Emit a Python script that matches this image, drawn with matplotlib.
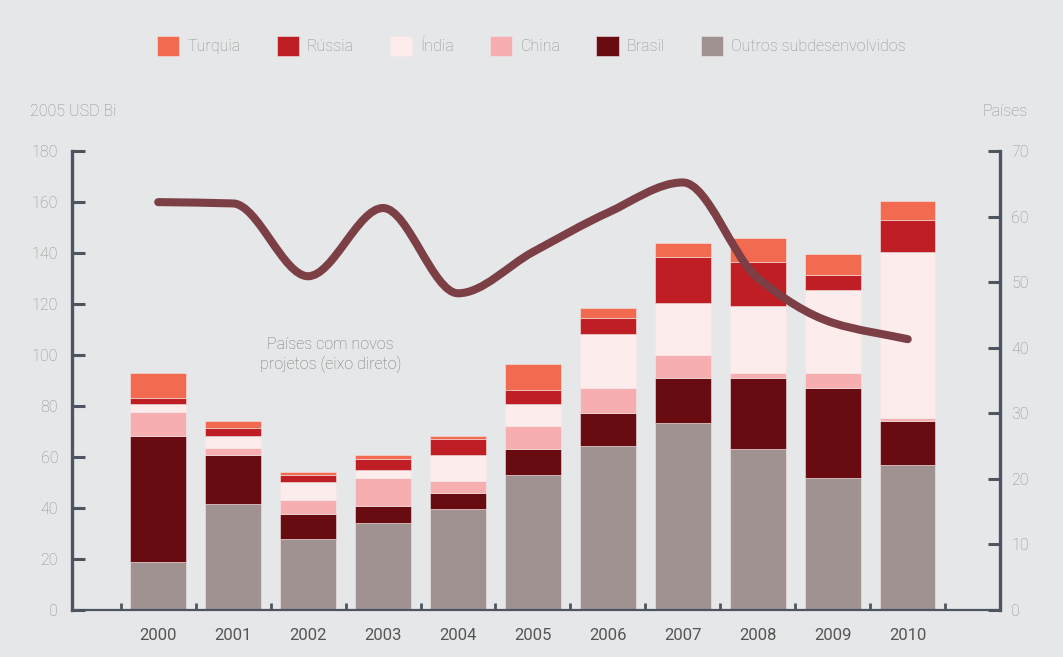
import numpy as np
import matplotlib.pyplot as plt
from matplotlib.path import Path
from matplotlib.patches import PathPatch, Patch

# dados (USD bilhões de 2005)
anos = ['2000', '2001', '2002', '2003', '2004', '2005', '2006', '2007', '2008', '2009', '2010']
outros = [18.8, 41.4, 27.8, 34.3, 39.6, 52.9, 64.5, 73.5, 63.2, 51.7, 56.8]
brasil = [49.5, 19.2, 9.8, 6.6, 6.2, 10.3, 12.9, 17.4, 27.7, 35.3, 17.4]
china = [9.5, 3.1, 5.7, 10.7, 4.6, 9.0, 9.6, 9.0, 1.9, 5.8, 1.2]
india = [2.9, 4.5, 7.0, 3.3, 10.2, 8.5, 21.1, 20.6, 26.3, 32.8, 64.9]
russia = [2.5, 3.3, 2.6, 4.4, 6.6, 5.6, 6.5, 17.8, 17.4, 5.7, 12.8]
turquia = [9.6, 2.7, 1.3, 1.3, 1.1, 10.3, 3.8, 5.8, 9.4, 8.4, 7.1]
paises = [62.2, 62.0, 50.9, 61.3, 48.3, 54.6, 60.6, 65.2, 50.6, 43.8, 41.3]

bg = '#e6e7e8'
eixo = '#4d5660'
txt = '#8f8f8f'
plt.rcParams['font.family'] = ['Roboto', 'DejaVu Sans']
plt.rcParams['font.weight'] = 'light'

fig = plt.figure(figsize=(10.63, 6.57), dpi=100, facecolor=bg)
ax = fig.add_axes([0.0677, 0.0715, 0.873, 0.6987])
ax.set_facecolor(bg)

x = np.arange(len(anos))
series = [
    ('Outros subdesenvolvidos', outros, '#a09291'),
    ('Brasil', brasil, '#690c12'),
    ('China', china, '#f6aeb0'),
    ('Índia', india, '#fdecec'),
    ('Rússia', russia, '#be1e24'),
    ('Turquia', turquia, '#f26a50'),
]
base = np.zeros(len(anos))
for nome, vals, cor in series:
    ax.bar(x, vals, bottom=base, width=0.74, color=cor, edgecolor='#f3e6e6',
           linewidth=0.4, zorder=2)
    base += np.array(vals)

ax.set_xlim(-1.15, 11.23)
ax.set_ylim(0, 180)
ax.set_yticks(range(0, 181, 20))
ax.set_xticks(x)
ax.set_xticklabels(anos, fontweight='normal')
ax.set_xticks(np.arange(-0.5, 11, 1), minor=True)
ax.tick_params(axis='x', which='major', length=0, pad=13, labelsize=12, labelcolor='#555555')
ax.tick_params(axis='x', which='minor', direction='in', length=5, width=2, color=eixo)
ax.tick_params(axis='y', direction='in', length=9, width=2.2, color=eixo,
               labelsize=11.5, labelcolor=txt, pad=10)
for s in ['top', 'right']:
    ax.spines[s].set_visible(False)
for s in ['left', 'bottom']:
    ax.spines[s].set_color(eixo)
ax.spines['left'].set_linewidth(2.4)
ax.spines['bottom'].set_linewidth(1.6)

ax2 = ax.twinx()
ax2.set_ylim(0, 70)
ax2.set_yticks(range(0, 71, 10))
ax2.tick_params(axis='y', direction='in', length=9, width=2.2, color=eixo,
                labelsize=11.5, labelcolor=txt, pad=8)
for s in ['top', 'left', 'bottom']:
    ax2.spines[s].set_visible(False)
ax2.spines['right'].set_color(eixo)
ax2.spines['right'].set_linewidth(2.4)

# curva suave monotona (Fritsch-Carlson -> Bezier)
px = x.astype(float)
py = np.array(paises, dtype=float)
d = np.diff(py) / np.diff(px)
m = np.zeros(len(py))
m[0], m[-1] = d[0], d[-1]
for i in range(1, len(py) - 1):
    if d[i - 1] * d[i] > 0:
        m[i] = 2 / (1 / d[i - 1] + 1 / d[i])
verts = [(px[0], py[0])]
codes = [Path.MOVETO]
for i in range(len(py) - 1):
    h = px[i + 1] - px[i]
    verts += [(px[i] + h / 3, py[i] + m[i] * h / 3),
              (px[i + 1] - h / 3, py[i + 1] - m[i + 1] * h / 3),
              (px[i + 1], py[i + 1])]
    codes += [Path.CURVE4] * 3
ax2.add_patch(PathPatch(Path(verts, codes), facecolor='none', edgecolor='#7b3f45',
                        linewidth=5.8, capstyle='round', zorder=3))

ax.text(2.3, 100, 'Países com novos\nprojetos (eixo direto)', ha='center', va='center',
        fontsize=11.5, color='#777777', linespacing=1.3)

fig.text(30 / 1063, 1 - 111 / 657, '2005 USD Bi', fontsize=11.5, color=txt, va='center')
fig.text(1028 / 1063, 1 - 111 / 657, 'Países', fontsize=11.5, color=txt, va='center', ha='right')

handles = [Patch(facecolor=c, edgecolor='#f3e6e6', linewidth=0.4, label=n)
           for n, v, c in series[::-1]]
fig.legend(handles=handles, loc='center', bbox_to_anchor=(0.5, 1 - 46 / 657), ncol=6,
           frameon=False, fontsize=11.5, labelcolor=txt, handlelength=1.4, handleheight=1.6,
           columnspacing=2.25, handletextpad=0.5)

fig.savefig('out.png', dpi=100, facecolor=bg)
